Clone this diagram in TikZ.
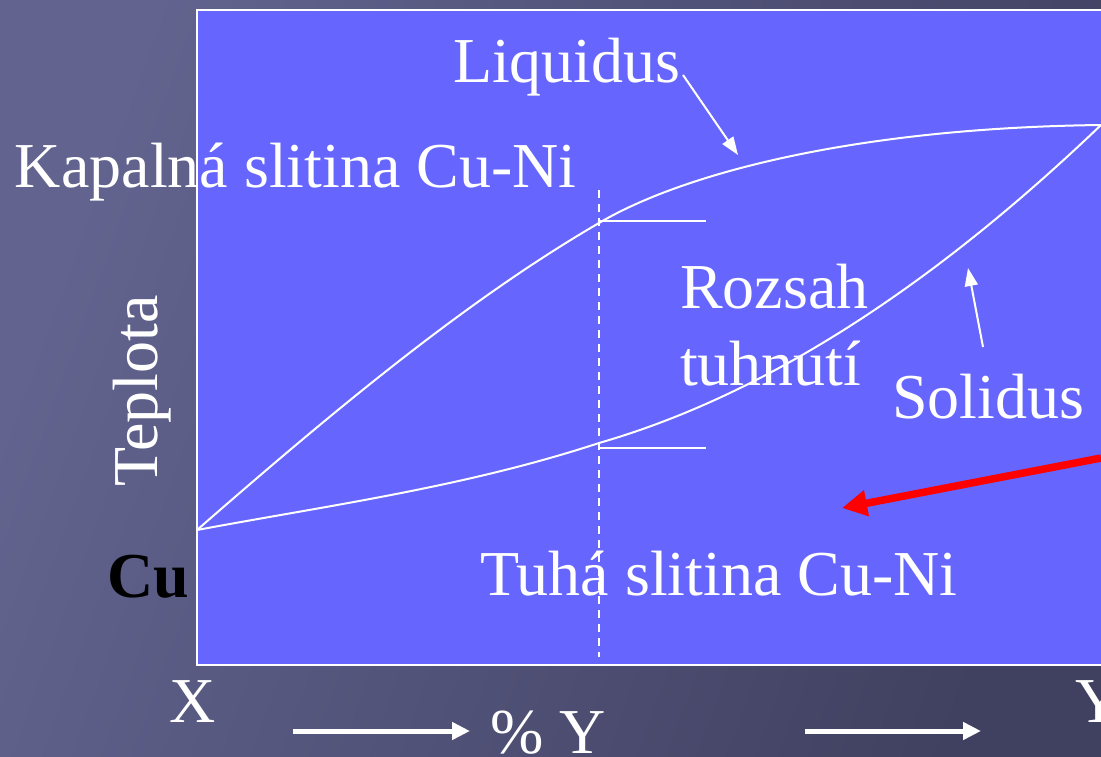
\documentclass[tikz,border=0pt]{standalone}
\usepackage{fontspec}
\setmainfont{Liberation Serif}
\usetikzlibrary{arrows.meta}
\definecolor{bgA}{RGB}{98,100,143}
\definecolor{bgB}{RGB}{64,64,96}
\definecolor{panel}{RGB}{102,102,255}
\begin{document}
\begin{tikzpicture}[x=1pt,y=-1pt,
  lbl/.style={inner sep=0pt, outer sep=0pt, text=white, font=\fontsize{64}{70}\selectfont, anchor=base west},
  curve/.style={white, line width=2pt},
  tie/.style={white, line width=2.5pt},
  pointer/.style={white, line width=2pt, -{Triangle[length=18pt,width=13pt]}},
  axisarrow/.style={white, line width=5pt, -{Triangle[length=18pt,width=17pt]}},
  redarrow/.style={red, line width=7.5pt, -{Triangle[length=25pt,width=25pt]}}]
\useasboundingbox (0,0) rectangle (1101,757);
\shade[left color=bgA, right color=bgB, shading angle=70] (0,0) rectangle (1101,757);
\draw[white, line width=2.5pt, fill=panel] (197,10) rectangle (1120,665);
% curves
\coordinate (cu0) at (197,530);
\coordinate (ni0) at (1101,125);
\coordinate (lm) at (599,223);
\coordinate (sm) at (599,443);
\draw[curve] (cu0) .. controls (331,413) and (465,301) .. (lm)
                   .. controls (680,175) and (850,128) .. (ni0);
\draw[curve] (cu0) .. controls (331,505) and (465,487) .. (sm)
                   .. controls (766,395) and (934,285) .. (ni0);
% dashed vertical
\coordinate (dtop) at (599,190);
\coordinate (dbot) at (599,657);
\draw[white, line width=1.5pt, dash pattern=on 8pt off 6pt] (dtop) -- (dbot);
% tie lines
\coordinate (l2) at (706,221);
\coordinate (s2) at (706,448);
\draw[tie] (599,221) -- (l2);
\draw[tie] (599,448) -- (s2);
% texts
\node[lbl] (liq) at (453,83) {Liquidus};
\node[lbl] (kap) at (15,188) {Kapalná slitina Cu-Ni};
\node[lbl] (roz) at (680,308) {Rozsah};
\node[lbl] (tuh) at (680,385) {tuhnutí};
\node[lbl] (sol) at (892,418) {Solidus};
\node[lbl] (tuha) at (480,595) {Tuhá slitina Cu-Ni};
\node[lbl, text=black, font=\fontsize{64}{70}\selectfont\bfseries] (cu) at (107,597) {Cu};
\node[lbl] (xl) at (169,722) {X};
\node[lbl] (yl) at (1075,722) {Y};
\node[lbl] (py) at (490,753) {\% Y};
\node[lbl, anchor=base, rotate=90] (tep) at (157,391) {Teplota};
% pointers
\coordinate (la0) at (683,75); \coordinate (la1) at (738,155);
\draw[pointer] (la0) -- (la1);
\coordinate (sa0) at (983,347); \coordinate (sa1) at (968,268);
\draw[pointer] (sa0) -- (sa1);
\coordinate (ra0) at (1101,458); \coordinate (ra1) at (842,508);
\draw[redarrow] (ra0) -- (ra1);
\coordinate (ax0) at (293,731); \coordinate (ax1) at (470,731);
\draw[axisarrow] (ax0) -- (ax1);
\coordinate (bx0) at (805,731); \coordinate (bx1) at (981,731);
\draw[axisarrow] (bx0) -- (bx1);
\end{tikzpicture}
\end{document}
